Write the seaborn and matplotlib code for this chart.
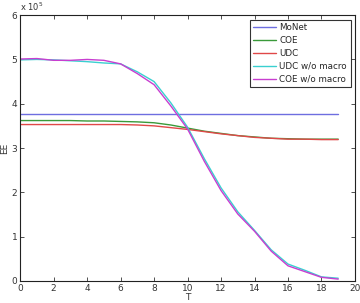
import numpy as np
import pandas as pd
import matplotlib
matplotlib.use("Agg")
import matplotlib.pyplot as plt
import seaborn as sns

# values in units of 1e5
T = list(range(0, 20))
monet = [3.77] * 20
coe = [3.62, 3.62, 3.62, 3.62, 3.61, 3.61, 3.60, 3.59, 3.57, 3.52, 3.45, 3.38, 3.33, 3.28, 3.25, 3.22, 3.21, 3.20, 3.20, 3.20]
udc = [3.53, 3.53, 3.53, 3.53, 3.53, 3.53, 3.53, 3.52, 3.50, 3.46, 3.42, 3.37, 3.32, 3.28, 3.24, 3.22, 3.20, 3.20, 3.19, 3.19]
udc_wo = [4.99, 5.00, 4.99, 4.97, 4.95, 4.92, 4.90, 4.72, 4.50, 4.02, 3.47, 2.76, 2.10, 1.56, 1.14, 0.70, 0.38, 0.24, 0.09, 0.06]
coe_wo = [5.01, 5.02, 4.98, 4.98, 5.00, 4.98, 4.90, 4.68, 4.43, 3.95, 3.43, 2.70, 2.04, 1.51, 1.12, 0.67, 0.34, 0.21, 0.08, 0.04]

names = ["MoNet", "COE", "UDC", "UDC w/o macro", "COE w/o macro"]
colors = ["#6e6ee0", "#3a9a3a", "#e04848", "#3ad0d0", "#c83ed0"]

df = pd.DataFrame({"T": T * 5,
                   "EE": monet + coe + udc + udc_wo + coe_wo,
                   "method": sum([[n] * 20 for n in names], [])})

sns.set_style("ticks")
plt.rcParams["font.family"] = ["DejaVu Sans"]

fig = plt.figure(figsize=(3.6, 3.03), dpi=100)
ax = fig.add_axes([0.056, 0.073, 0.93, 0.877])

sns.lineplot(data=df, x="T", y="EE", hue="method", hue_order=names,
             palette=colors, linewidth=1.0, ax=ax)

ax.set_xlim(0, 20)
ax.set_ylim(0, 6)
ax.set_xticks(range(0, 21, 2))
ax.set_yticks(range(0, 7))
ax.tick_params(direction="in", length=3, width=0.6, labelsize=6.5,
               top=True, right=True, pad=2, colors="#333333")
for s in ax.spines.values():
    s.set_linewidth(0.8)
    s.set_color("#222222")

ax.set_xlabel("T", fontsize=6.5, labelpad=0, color="#333333")
ax.set_ylabel("EE", fontsize=6.5, labelpad=2, color="#333333")
ax.text(0.0, 1.008, r"x 10$^5$", transform=ax.transAxes, fontsize=6,
        ha="left", va="bottom", color="#333333")

leg = ax.legend(loc="upper right", fontsize=6.3, frameon=True, fancybox=False,
                edgecolor="black", borderaxespad=0.5, handlelength=2.6,
                handletextpad=0.4, labelspacing=0.45, borderpad=0.4)
leg.get_frame().set_linewidth(0.8)

fig.savefig("out.png", dpi=100)
